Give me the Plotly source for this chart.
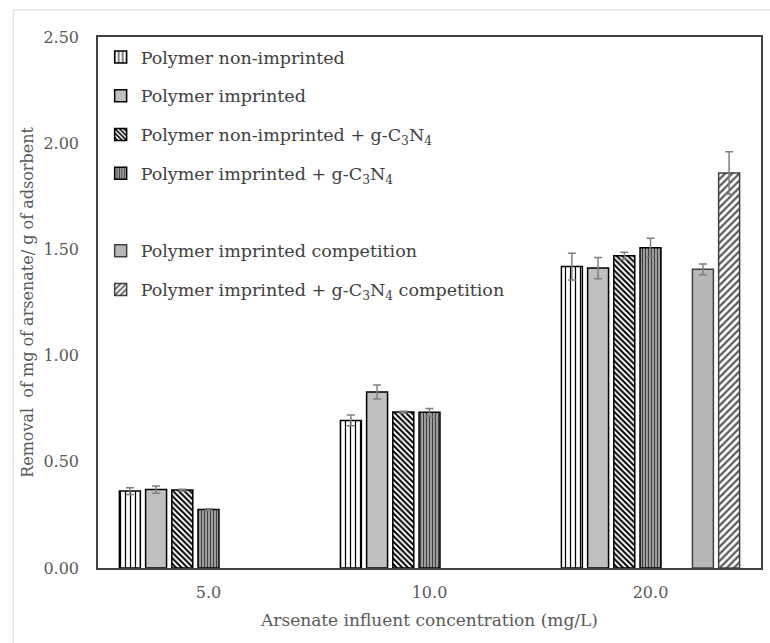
import plotly.graph_objects as go

# Arsenate influent concentrations (category labels)
concentrations = ["5.0", "10.0", "20.0"]

# Removal (mg arsenate / g adsorbent) and standard deviations
non_imprinted = [0.362, 0.695, 1.419]
non_imprinted_err = [0.016, 0.025, 0.063]

imprinted = [0.369, 0.829, 1.412]
imprinted_err = [0.017, 0.033, 0.050]

non_imprinted_gcn = [0.367, 0.734, 1.470]
non_imprinted_gcn_err = [0.004, 0.004, 0.017]

imprinted_gcn = [0.275, 0.733, 1.508]
imprinted_gcn_err = [0.004, 0.018, 0.045]

spacer = [None, None, None]

imprinted_comp = [None, None, 1.406]
imprinted_comp_err = [0, 0, 0.025]

imprinted_gcn_comp = [None, None, 1.860]
imprinted_gcn_comp_err = [0, 0, 0.100]

y_ticks = [0.0, 0.5, 1.0, 1.5, 2.0, 2.5]

FONT = "DejaVu Serif"
TEXT = "#595959"
SIZE = 16

series = [
    ("Polymer non-imprinted", non_imprinted, non_imprinted_err,
     dict(color="white", line=dict(color="#000000", width=1.5),
          pattern=dict(shape="|", size=5, solidity=0.25, fgcolor="#000000",
                       bgcolor="white", fillmode="replace"))),
    ("Polymer imprinted", imprinted, imprinted_err,
     dict(color="#bfbfbf", line=dict(color="#000000", width=1.5))),
    ("Polymer non-imprinted + g-C<sub>3</sub>N<sub>4</sub>", non_imprinted_gcn, non_imprinted_gcn_err,
     dict(color="white", line=dict(color="#000000", width=1.5),
          pattern=dict(shape="\\", size=4, solidity=0.5, fgcolor="#000000",
                       bgcolor="white", fillmode="replace"))),
    ("Polymer imprinted + g-C<sub>3</sub>N<sub>4</sub>", imprinted_gcn, imprinted_gcn_err,
     dict(color="#a6a6a6", line=dict(color="#000000", width=1.5),
          pattern=dict(shape="|", size=3, solidity=0.4, fgcolor="#404040",
                       bgcolor="#a6a6a6", fillmode="replace"))),
    (" ", spacer, None,
     dict(color="rgba(0,0,0,0)", line=dict(width=0))),
    ("Polymer imprinted competition", imprinted_comp, imprinted_comp_err,
     dict(color="#bdbdbd", line=dict(color="#404040", width=1.5),
          pattern=dict(shape=".", size=2, solidity=0.3, fgcolor="#8c8c8c",
                       bgcolor="#c4c4c4", fillmode="replace"))),
    ("Polymer imprinted + g-C<sub>3</sub>N<sub>4</sub> competition", imprinted_gcn_comp, imprinted_gcn_comp_err,
     dict(color="white", line=dict(color="#404040", width=1.5),
          pattern=dict(shape="/", size=5, solidity=0.45, fgcolor="#595959",
                       bgcolor="white", fillmode="replace"))),
]

fig = go.Figure()
for i, (name, vals, errs, marker) in enumerate(series):
    err = None
    if errs is not None:
        err = dict(type="data", array=errs, visible=True, color="#7f7f7f",
                   thickness=1.5, width=4)
    fig.add_trace(go.Bar(
        x=concentrations, y=vals, name=name, marker=marker, error_y=err,
        legendgroup=f"g{i}", hoverinfo="skip" if errs is None else None,
    ))

fig.update_layout(
    width=770, height=643,
    margin=dict(l=98, r=7, t=37, b=75),
    paper_bgcolor="white", plot_bgcolor="white",
    barmode="group", bargap=0.17, bargroupgap=0.2,
    font=dict(family=FONT, size=SIZE, color=TEXT),
    showlegend=True,
    legend=dict(
        x=0.004, y=1 - 2 / 531, xanchor="left", yanchor="top",
        traceorder="grouped", tracegroupgap=13,
        font=dict(family=FONT, size=17.5, color="#404040"),
        bgcolor="rgba(0,0,0,0)", borderwidth=0,
    ),
    xaxis=dict(
        type="category", showline=True, linecolor="#404040", linewidth=1.5,
        mirror=True, ticks="", showgrid=False, ticklabelstandoff=9,
        tickfont=dict(family=FONT, size=SIZE, color=TEXT),
        title=dict(text="Arsenate influent concentration (mg/L)",
                   font=dict(family=FONT, size=17, color=TEXT), standoff=13),
    ),
    yaxis=dict(
        range=[0, 2.5], tickvals=y_ticks, tickformat=".2f",
        showline=True, linecolor="#404040", linewidth=1.5, mirror=True,
        ticks="", showgrid=False, zeroline=False, ticklabelstandoff=14,
        tickfont=dict(family=FONT, size=SIZE, color=TEXT),
        title=dict(text="Removal  of mg of arsenate/ g of adsorbent",
                   font=dict(family=FONT, size=SIZE, color=TEXT), standoff=6),
    ),
    shapes=[dict(type="rect", xref="paper", yref="paper",
                 x0=-85 / 665, x1=1.2, y0=-0.2, y1=1 + 27 / 531,
                 line=dict(color="#d9d9d9", width=1), layer="below")],
)

fig.write_html("out.html")
